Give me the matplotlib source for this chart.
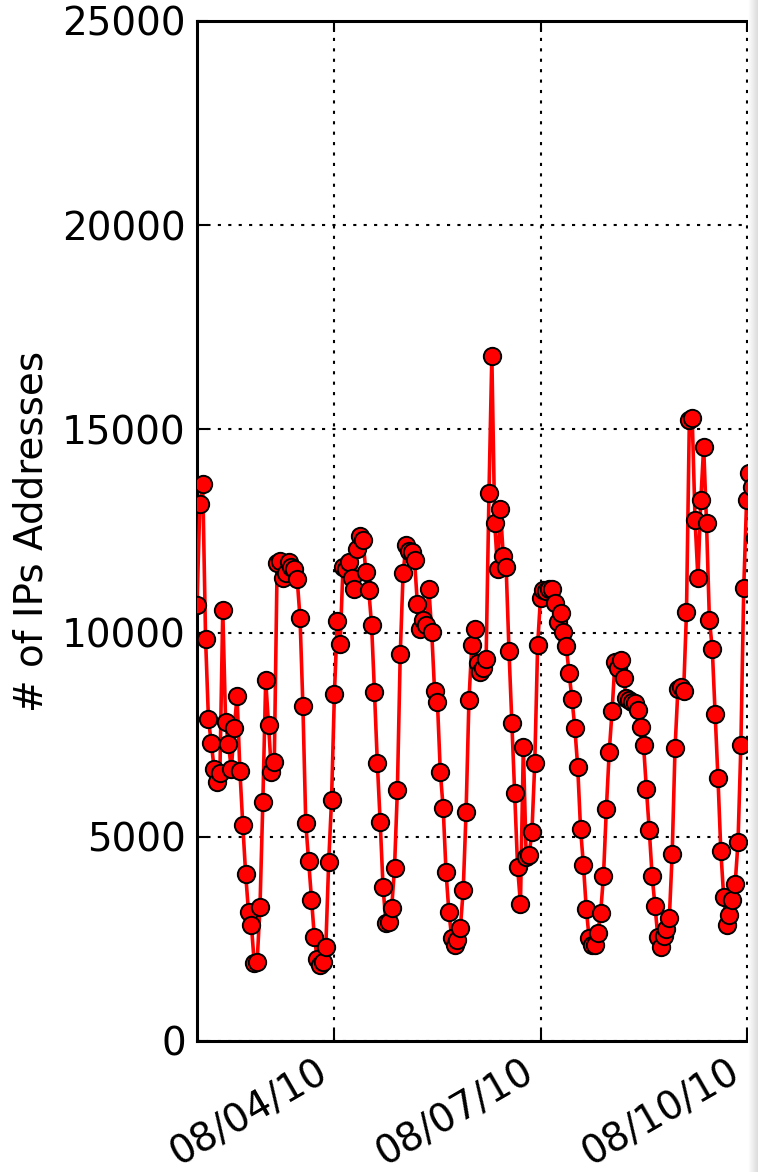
import matplotlib
matplotlib.use('Agg')
import matplotlib.pyplot as plt
import matplotlib.dates as mdates
import numpy as np

# hourly samples starting 08/02/10 00:00
start = np.datetime64('2010-08-02T00:00')
ips = [
    10680, 13170, 13660, 9850, 7890, 7300, 6660, 6340, 6560, 10560,
    7810, 7270, 6660, 7670, 8450, 6610, 5290, 4090, 3160, 2840,
    1910, 1930, 3280, 5850, 8840, 7740, 6590, 6830, 11710, 11760,
    11340, 11460, 11730, 11610, 11560, 11320, 10360, 8200, 5340, 4410,
    3450, 2550, 2010, 1860, 1930, 2300, 4380, 5900, 8500, 10290,
    9730, 11610, 11580, 11730, 11360, 11090, 12070, 12370, 12270, 11490,
    11050, 10190, 8550, 6810, 5360, 3770, 2890, 2910, 3260, 4240,
    6150, 9480, 11460, 12150, 12020, 11980, 11780, 10700, 10090, 10310,
    10190, 11090, 10020, 8570, 8300, 6590, 5710, 4140, 3160, 2520,
    2350, 2470, 2770, 3700, 5610, 8350, 9700, 10090, 9260, 9040,
    9130, 9360, 13420, 16800, 12690, 11560, 13030, 11880, 11610, 9550,
    7790, 6070, 4260, 3360, 7200, 4510, 4560, 5120, 6810, 9700,
    10870, 11050, 11020, 11070, 11070, 10730, 10260, 10480, 10020, 9670,
    9010, 8380, 7670, 6710, 5190, 4310, 3230, 2520, 2350, 2350,
    2650, 3140, 4040, 5680, 7080, 8080, 9280, 9140, 9330, 8890,
    8400, 8350, 8300, 8280, 8110, 7690, 7250, 6170, 5170, 4040,
    3310, 2550, 2300, 2570, 2740, 3010, 4580, 7180, 8620, 8670,
    8570, 10510, 15230, 15280, 12760, 11340, 13250, 14570, 12690, 10330,
    9620, 8010, 6440, 4650, 3530, 2840, 3080, 3450, 3850, 4870,
    7250, 11100, 13250, 13910, 13590, 12340, 12640, 13000,
]
times = start + np.arange(len(ips)) * np.timedelta64(1, 'h')

W, H = 758, 1172
fig = plt.figure(figsize=(W / 100, H / 100), dpi=100)
# axes run past the right edge of the picture (cropped original)
ax = fig.add_axes([197 / W, 131 / H, 687 / W, 1020 / H])

ax.plot(times, ips, '-o', color='red', lw=2.6, ms=12.5, mfc='red',
        mec='black', mew=1.4, zorder=3)

ax.set_xlim(np.datetime64('2010-08-02T00:00'), np.datetime64('2010-08-12T00:00'))
ax.set_ylim(0, 25000)
ax.set_yticks(range(0, 25001, 5000))
ax.xaxis.set_major_locator(mdates.DayLocator(bymonthday=range(1, 32, 3)))
ax.xaxis.set_major_formatter(mdates.DateFormatter('%m/%d/%y'))

ax.grid(True, linestyle=(0, (1.5, 3.5)), color='k', lw=1.5)
ax.tick_params(direction='in', length=8, width=1.5, labelsize=28,
               top=True, right=True, pad=8)
for lbl in ax.get_xticklabels():
    lbl.set_rotation(30)
    lbl.set_ha('right')
ax.set_ylabel('# of IPs Addresses', fontsize=28, labelpad=8)
for s in ax.spines.values():
    s.set_linewidth(2.2)

# faint shadow at the right border of the screenshot
shade = fig.add_axes([748 / W, 0, 10 / W, 1])
shade.imshow(np.linspace(1.0, 0.86, 20)[None, :], cmap='gray', vmin=0, vmax=1,
             aspect='auto', extent=[0, 1, 0, 1])
shade.set_axis_off()

fig.savefig('out.png', dpi=100)
